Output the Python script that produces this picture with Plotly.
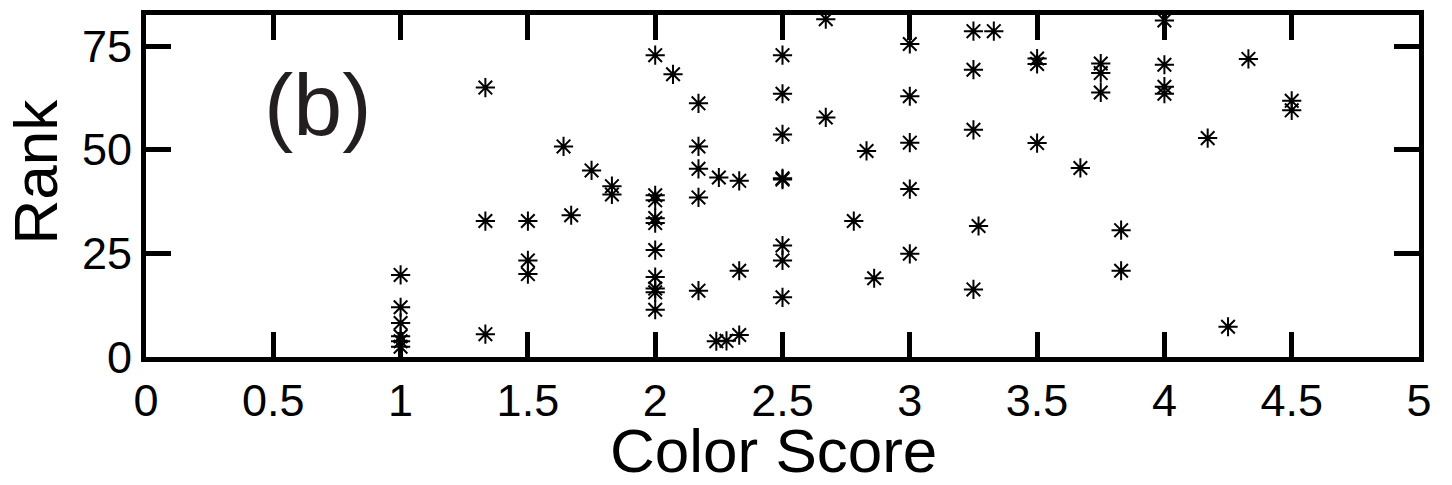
import plotly.graph_objects as go

# Color score vs rank, panel (b)
color_score = [
    1, 1, 1, 1, 1, 1,
    1.333, 1.333, 1.333,
    1.5, 1.5, 1.5,
    1.64, 1.67, 1.75, 1.83, 1.83,
    2, 2, 2, 2, 2, 2, 2, 2, 2, 2,
    2.07,
    2.17, 2.17, 2.17, 2.17, 2.17,
    2.25, 2.24, 2.28,
    2.33, 2.33, 2.33,
    2.5, 2.5, 2.5, 2.5, 2.5, 2.5, 2.5, 2.5,
    2.67, 2.67, 2.78, 2.83, 2.86,
    3, 3, 3, 3, 3,
    3.25, 3.25, 3.25, 3.25, 3.33, 3.27,
    3.5, 3.5, 3.5,
    3.67,
    3.75, 3.75, 3.75,
    3.83, 3.83,
    4, 4, 4, 4,
    4.17, 4.25, 4.33,
    4.5, 4.5,
]
rank = [
    19.8, 12, 8.2, 5, 3.8, 2.5,
    65, 32.8, 5.5,
    32.8, 23.3, 20,
    50.8, 34.2, 45, 41.2, 39.2,
    72.8, 39, 37.8, 33.5, 32.3, 25.8, 19.3, 16.5, 15.6, 11.4,
    68.2,
    61.2, 50.8, 45.4, 38.5, 16,
    43.3, 3.8, 3.9,
    42.5, 20.8, 5.3,
    72.8, 63.5, 53.7, 43.1, 42.8, 26.9, 23.3, 14.4,
    81.5, 57.8, 32.8, 49.7, 19,
    75.5, 62.9, 51.7, 40.5, 24.9,
    78.6, 69.3, 54.8, 16.3, 78.6, 31.6,
    72, 70.7, 51.6,
    45.6,
    70.8, 68.5, 63.8,
    30.6, 20.8,
    81.2, 70.5, 65.2, 63.5,
    52.8, 7.3, 71.9,
    61.8, 59.5,
]

x_ticks = [0, 0.5, 1, 1.5, 2, 2.5, 3, 3.5, 4, 4.5, 5]
x_tick_text = ["0", "0.5", "1", "1.5", "2", "2.5", "3", "3.5", "4", "4.5", "5"]
y_ticks = [0, 25, 50, 75]

fig = go.Figure()
fig.add_trace(go.Scatter(
    x=color_score, y=rank, mode="markers",
    marker=dict(symbol="asterisk-open", size=16, color="black",
                line=dict(color="black", width=2)),
    showlegend=False,
))

axis_style = dict(
    showline=True, linecolor="black", linewidth=5, mirror="ticks",
    ticks="inside", ticklen=25, tickwidth=5, tickcolor="black",
    showgrid=False, zeroline=False, automargin=False,
    tickfont=dict(family="Liberation Sans", size=45, color="black"),
)

fig.update_xaxes(range=[0, 5], tickvals=x_ticks, ticktext=x_tick_text, **axis_style)
fig.update_yaxes(range=[0, 82.5], tickvals=y_ticks, **axis_style)

title_font = dict(family="Liberation Sans", size=62, color="black")
# axis titles placed as annotations so they sit close to the tick labels
fig.add_annotation(x=0.493, y=-0.273, xref="paper", yref="paper", text="Color Score",
                   showarrow=False, xanchor="center", yanchor="middle", font=title_font)
fig.add_annotation(x=-0.087, y=0.543, xref="paper", yref="paper", text="Rank",
                   showarrow=False, textangle=-90, xanchor="center", yanchor="middle",
                   borderpad=0, font=title_font)

fig.add_annotation(x=0.675, y=61, xref="x", yref="y", text="(b)", showarrow=False,
                   font=dict(family="Liberation Sans", size=88, color="#231f20"))

# page body adds an 8px margin, so the figure is a little smaller than the window
fig.update_layout(
    width=1444, height=477,
    margin=dict(l=138, r=33, t=7, b=127.5),
    plot_bgcolor="white", paper_bgcolor="white",
)

fig.write_html("out.html")
